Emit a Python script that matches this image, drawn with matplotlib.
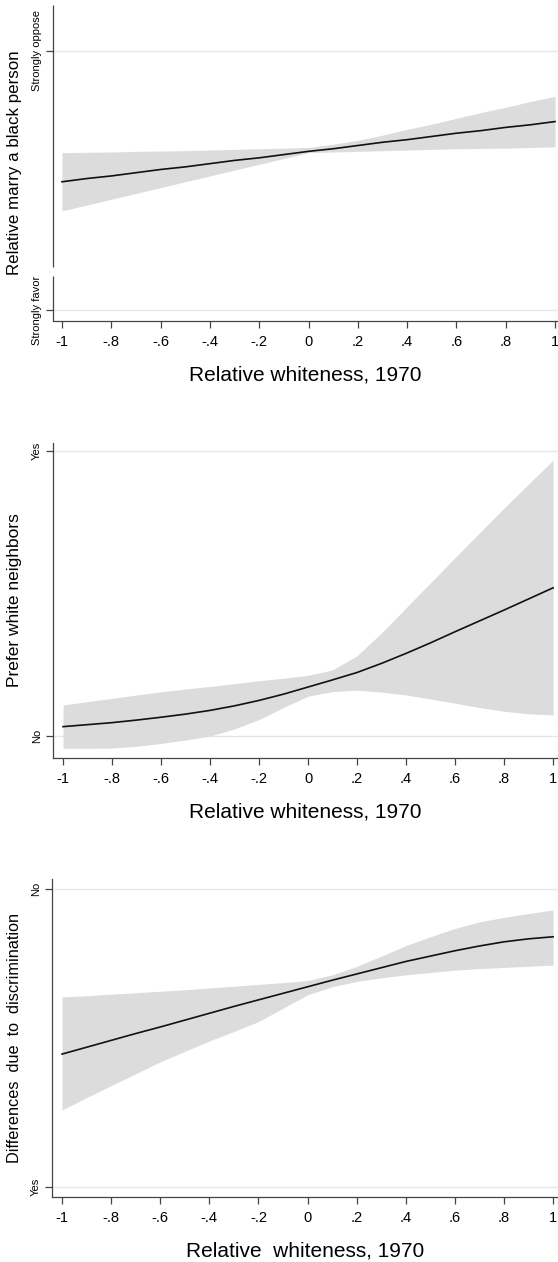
import matplotlib
matplotlib.use("Agg")
import matplotlib.pyplot as plt

plt.rcParams['font.family'] = ['Liberation Sans', 'DejaVu Sans']

# shared x grid (relative whiteness, 1970)
x = [-1.0, -0.9, -0.8, -0.7, -0.6, -0.5, -0.4, -0.3, -0.2, -0.1, 0.0,
     0.1, 0.2, 0.3, 0.4, 0.5, 0.6, 0.7, 0.8, 0.9, 1.0]
xticks = [-1, -0.8, -0.6, -0.4, -0.2, 0, 0.2, 0.4, 0.6, 0.8, 1]
xticklabels = ['-1', '-.8', '-.6', '-.4', '-.2', '0', '.2', '.4', '.6', '.8', '1']

# panel 1: marry a black person (1 = strongly favor, 5 = strongly oppose)
marry_fit = [2.98, 3.03, 3.07, 3.12, 3.17, 3.21, 3.26, 3.31, 3.35, 3.40, 3.45,
             3.49, 3.54, 3.59, 3.63, 3.68, 3.73, 3.77, 3.82, 3.86, 3.91]
marry_hi = [3.43, 3.435, 3.44, 3.45, 3.455, 3.46, 3.47, 3.48, 3.49, 3.50, 3.51,
            3.56, 3.62, 3.70, 3.79, 3.87, 3.96, 4.05, 4.13, 4.22, 4.30]
marry_lo = [2.53, 2.62, 2.71, 2.80, 2.89, 2.98, 3.07, 3.16, 3.25, 3.34, 3.43,
            3.44, 3.45, 3.46, 3.47, 3.48, 3.49, 3.495, 3.50, 3.51, 3.52]

# panel 2: prefer white neighbors (0 = no, 1 = yes)
neigh_fit = [0.033, 0.040, 0.047, 0.056, 0.066, 0.077, 0.090, 0.106, 0.125, 0.147, 0.172,
             0.197, 0.223, 0.255, 0.290, 0.327, 0.366, 0.404, 0.442, 0.481, 0.520]
neigh_hi = [0.109, 0.121, 0.132, 0.144, 0.155, 0.165, 0.174, 0.184, 0.194, 0.203, 0.213,
            0.232, 0.282, 0.362, 0.450, 0.538, 0.626, 0.713, 0.800, 0.884, 0.968]
neigh_lo = [-0.043, -0.043, -0.042, -0.036, -0.026, -0.014, 0.0, 0.025, 0.058, 0.10, 0.140,
            0.156, 0.161, 0.154, 0.144, 0.13, 0.115, 0.10, 0.087, 0.078, 0.074]

# panel 3: differences due to discrimination (1 = yes, 2 = no)
discr_fit = [1.446, 1.469, 1.492, 1.515, 1.537, 1.56, 1.583, 1.606, 1.628, 1.65, 1.672,
             1.694, 1.715, 1.736, 1.757, 1.775, 1.793, 1.809, 1.823, 1.833, 1.84]
discr_hi = [1.638, 1.642, 1.647, 1.652, 1.657, 1.662, 1.668, 1.674, 1.680, 1.686, 1.693,
            1.712, 1.74, 1.775, 1.81, 1.84, 1.868, 1.89, 1.905, 1.918, 1.93]
discr_lo = [1.258, 1.30, 1.34, 1.38, 1.42, 1.455, 1.49, 1.522, 1.555, 1.60, 1.645,
            1.672, 1.69, 1.702, 1.712, 1.72, 1.728, 1.733, 1.737, 1.741, 1.745]

W, H = 558, 1262
fig = plt.figure(figsize=(W / 100, H / 100), dpi=100)

AXIS_COL = '#444444'
BAND_COL = '#dcdcdc'
GRID_COL = '#e6e6e6'


def make_panel(top_px, bot_px, left_px, xlim, ylim, fit, lo, hi,
               yticks, yticklabels, ylabel, ylabel_size, xlabel):
    ax = fig.add_axes([left_px / W, 1 - bot_px / H,
                       (W - left_px) / W, (bot_px - top_px) / H])
    for yv in yticks:
        ax.axhline(yv, color=GRID_COL, lw=1.0, zorder=0)
    ax.fill_between(x, lo, hi, color=BAND_COL, lw=0, zorder=1)
    ax.plot(x, fit, color='#111111', lw=1.2, zorder=2)
    ax.set_xlim(*xlim)
    ax.set_ylim(*ylim)
    ax.set_xticks(xticks)
    ax.set_xticklabels(xticklabels, fontsize=10.5)
    ax.set_yticks(yticks)
    ax.set_yticklabels(yticklabels, fontsize=8, rotation=90, va='center')
    ax.spines['top'].set_visible(False)
    ax.spines['right'].set_visible(False)
    for s in ('left', 'bottom'):
        ax.spines[s].set_color(AXIS_COL)
        ax.spines[s].set_linewidth(0.9)
    ax.tick_params(axis='both', direction='out', length=5, width=0.9,
                   color=AXIS_COL, labelcolor='black')
    ax.tick_params(axis='x', pad=5)
    ax.tick_params(axis='y', pad=3)
    ax.set_ylabel(ylabel, fontsize=ylabel_size)
    ax.yaxis.label.set_verticalalignment('center')
    ax.yaxis.set_label_coords(-(left_px - 15) / (W - left_px), 0.5)
    ax.set_xlabel(xlabel, fontsize=15, labelpad=12)
    return ax


ax1 = make_panel(5, 321, 53, (-1.0365, 1.012), (0.83, 5.71),
                 marry_fit, marry_lo, marry_hi,
                 [1, 5], ['Strongly favor', 'Strongly oppose'],
                 'Relative marry a black person', 12.2, 'Relative whiteness, 1970')
# broken y axis on the first panel
ax1.spines['left'].set_visible(False)
ax1.plot([0, 0], [0, 0.142], transform=ax1.transAxes, color=AXIS_COL,
         lw=0.9, clip_on=False, solid_capstyle='butt')
ax1.plot([0, 0], [0.171, 1], transform=ax1.transAxes, color=AXIS_COL,
         lw=0.9, clip_on=False, solid_capstyle='butt')

make_panel(443, 758, 53, (-1.041, 1.02), (-0.077, 1.028),
           neigh_fit, neigh_lo, neigh_hi,
           [0, 1], ['No', 'Yes'],
           'Prefer white neighbors', 12.5, 'Relative whiteness, 1970')

make_panel(879, 1197, 52, (-1.041, 1.02), (0.966, 2.034),
           discr_fit, discr_lo, discr_hi,
           [1, 2], ['Yes', 'No'],
           'Differences  due  to  discrimination', 11.7, 'Relative  whiteness, 1970')

fig.savefig('out.png', dpi=100, facecolor='white')
